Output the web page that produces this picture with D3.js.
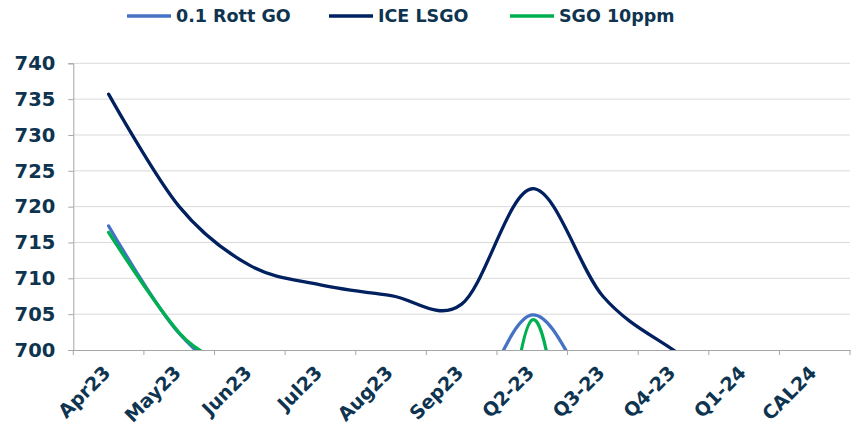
<!DOCTYPE html>
<html>
<head>
<meta charset="utf-8">
<script src="https://cdn.jsdelivr.net/npm/d3@7"></script>
<style>
  body { margin: 0; background: #fff; }
  text { font-family: "DejaVu Sans", Verdana, sans-serif; font-weight: bold; fill: #0e3450; }
</style>
</head>
<body>
<div id="chart"></div>
<script>
// forward curve categories and prices (values below 700 are cut off by the axis)
var categories = ["Apr23", "May23", "Jun23", "Jul23", "Aug23", "Sep23", "Q2-23", "Q3-23", "Q4-23", "Q1-24", "CAL24"];
var rottGo  = [717.3, 702.3, 695.1, 694.0, 692.0, 690.0, 704.9, 692.0, 689.0, 686.0, 684.0];
var iceLsgo = [735.7, 720.0, 711.8, 709.1, 707.6, 706.4, 722.5, 707.5, 700.0, 694.0, 690.0];
var sgo10   = [716.4, 702.4, 693.8, 670.0, 645.0, 638.0, 704.2, 648.0, 650.0, 648.0, 645.0];
var yTicks  = [700, 705, 710, 715, 720, 725, 730, 735, 740];

var seriesNames  = ["0.1 Rott GO", "ICE LSGO", "SGO 10ppm"];
var seriesValues = [rottGo, iceLsgo, sgo10];
var seriesColours = ["#4472c4", "#002060", "#00b050"];

var width = 853,
    height = 427;

var svg = d3.select("#chart")
    .append("svg")
    .attr("width", width)
    .attr("height", height);

var x = d3.scaleBand()
    .domain(categories)
    .range([73.3, 850])
    .padding(0);

var y = d3.scaleLinear()
    .domain([700, 740])
    .range([350, 63.3]);

// gridlines
svg.append("g")
    .selectAll("line")
    .data(yTicks.filter(function(d) { return d > 700; }))
    .enter().append("line")
    .attr("x1", x.range()[0])
    .attr("x2", x.range()[1])
    .attr("y1", function(d) { return y(d); })
    .attr("y2", function(d) { return y(d); })
    .style("stroke", "#d9d9d9")
    .style("stroke-width", 1);

// y axis
var yAxis = svg.append("g")
    .attr("transform", "translate(" + x.range()[0] + ",0)")
    .call(d3.axisLeft(y).tickValues(yTicks).tickSize(5).tickPadding(13));
yAxis.select(".domain").style("stroke", "#a6a6a6");
yAxis.selectAll(".tick line").style("stroke", "#a6a6a6");
yAxis.selectAll("text")
    .style("font-size", "19.5px")
    .style("font-family", "DejaVu Sans, sans-serif")
    .attr("fill", "#0e3450");

// x axis
var xAxis = svg.append("g")
    .attr("transform", "translate(0," + y(700) + ")")
    .call(d3.axisBottom(x).tickSize(0).tickFormat(""));
xAxis.select(".domain").style("stroke", "#a6a6a6");

var edges = categories.map(function(c) { return x(c); }).concat([x.range()[1]]);
xAxis.selectAll(".edge")
    .data(edges)
    .enter().append("line")
    .attr("class", "edge")
    .attr("x1", function(d) { return d; })
    .attr("x2", function(d) { return d; })
    .attr("y1", 0)
    .attr("y2", 5)
    .style("stroke", "#a6a6a6");

svg.append("g")
    .selectAll("text")
    .data(categories)
    .enter().append("text")
    .attr("transform", function(d) {
        return "translate(" + (x(d) + x.bandwidth() / 2 + 3) + "," + (y(700) + 24) + ") rotate(-45)";
    })
    .attr("text-anchor", "end")
    .style("font-size", "19px")
    .text(function(d) { return d; });

// lines, clipped to the plot area
svg.append("clipPath")
    .attr("id", "plot-clip")
    .append("rect")
    .attr("x", x.range()[0])
    .attr("y", 0)
    .attr("width", x.range()[1] - x.range()[0])
    .attr("height", y(700));

var line = d3.line()
    .x(function(d, i) { return x(categories[i]) + x.bandwidth() / 2; })
    .y(function(d) { return y(d); })
    .curve(d3.curveCardinal.tension(0));

svg.append("g")
    .attr("clip-path", "url(#plot-clip)")
    .selectAll("path")
    .data(seriesValues)
    .enter().append("path")
    .attr("d", function(d) { return line(d); })
    .style("fill", "none")
    .style("stroke", function(d, i) { return seriesColours[i]; })
    .style("stroke-width", 3.3)
    .style("stroke-linecap", "round");

// legend
var legendX = [127, 329, 510];
var legend = svg.append("g")
    .selectAll("g")
    .data(seriesNames)
    .enter().append("g")
    .attr("transform", function(d, i) { return "translate(" + legendX[i] + ",16)"; });

legend.append("line")
    .attr("x1", 0)
    .attr("x2", 44)
    .style("stroke", function(d, i) { return seriesColours[i]; })
    .style("stroke-width", 3.3);

legend.append("text")
    .attr("x", 49)
    .attr("dy", "0.36em")
    .style("font-size", "17.5px")
    .text(function(d) { return d; });
</script>
</body>
</html>
